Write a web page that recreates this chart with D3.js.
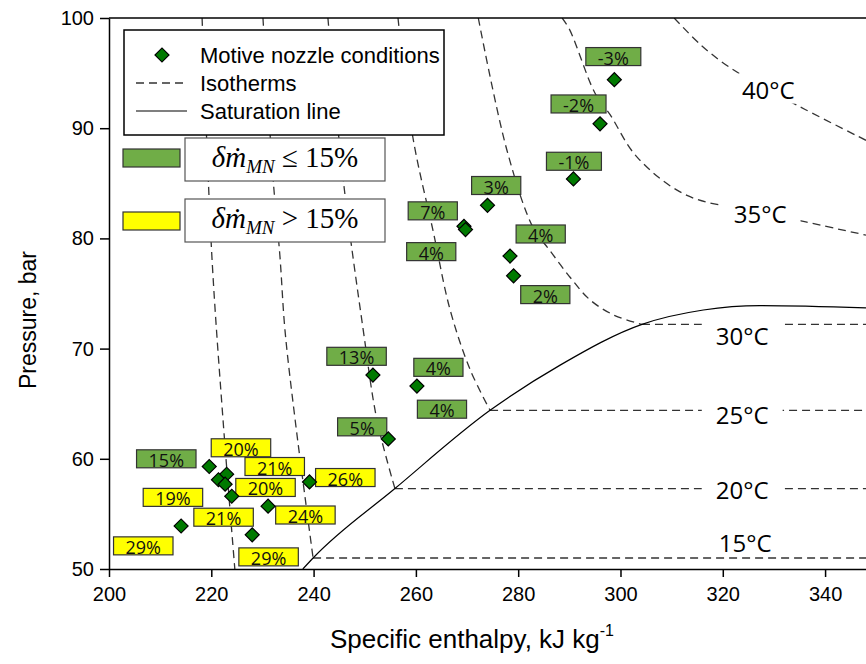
<!DOCTYPE html>
<html>
<head>
<meta charset="utf-8">
<script src="https://cdn.jsdelivr.net/npm/d3@7"></script>
<style>
  body { margin: 0; background: #fff; }
  .axis text { font-family: "Liberation Sans", Arial, sans-serif; font-size: 20px; fill: #000; }
  .axis path, .axis line { stroke: #000; stroke-width: 1.5; }
</style>
</head>
<body>
<div id="canvas"></div>
<script>
// axis ticks
const xTicks = [200, 220, 240, 260, 280, 300, 320, 340];
const yTicks = [50, 60, 70, 80, 90, 100];

// saturation line (h kJ/kg, p bar)
const satH = [237.9, 239.9, 255.9, 274.5, 288.2, 304.2, 316.2, 327.3, 348.0];
const satP = [50.0, 51.0, 57.3, 64.4, 68.5, 72.2, 73.5, 73.9, 73.7];

// isotherm branches
const iso10 = [[218.2, 100], [220.1, 78.5], [222.3, 63.5], [224.6, 50]];
const iso15 = [[230.1, 100], [232.1, 85.3], [233.4, 78.5], [234.4, 71.7], [236.4, 63.5], [239.9, 51.0]];
const iso20 = [[242.8, 100], [245.8, 85.3], [249.7, 71.7], [252.4, 63.5], [255.9, 57.3]];
const iso25 = [[256.5, 100], [259.4, 89.2], [263.4, 80.6], [266.7, 73.5], [270.6, 68.1], [274.5, 64.4]];
const iso30 = [[272.2, 100], [277.8, 88.0], [282.9, 81.0], [286.2, 78.9], [290.1, 76.5], [294.1, 74.4], [298.9, 73.0], [304.2, 72.2]];
const iso35 = [[288.6, 100], [290.1, 98.9], [295.0, 93.2], [298.0, 91.2], [303.2, 87.4], [313.0, 83.9], [327.3, 82.4], [348, 80.3]];
const iso40 = [[310.5, 100], [315.6, 97.6], [321.4, 95.5], [328.9, 93.5], [336.1, 91.7], [348, 88.9]];

// two-phase plateaus
const plateauP = [51.0, 57.3, 64.4, 72.2];
const plateauH = [239.9, 255.9, 274.5, 304.2];

// isotherm labels
const isoNames = ["15°C", "20°C", "25°C", "30°C", "35°C", "40°C"];
const isoLabelH = [324.4, 323.8, 323.8, 323.8, 327.3, 328.9];
const isoLabelP = [52.4, 57.2, 64.0, 71.2, 82.3, 93.5];

// motive nozzle conditions
const ptH = [298.8, 296.0, 290.8, 274.0, 269.4, 269.7, 278.4, 279.1, 251.6, 260.2, 254.6,
             219.6, 223.0, 221.4, 222.7, 224.0, 239.2, 231.1, 214.1, 228.0];
const ptP = [94.4, 90.4, 85.4, 83.0, 81.1, 80.8, 78.4, 76.6, 67.6, 66.6, 61.8,
             59.3, 58.6, 58.1, 57.7, 56.6, 57.9, 55.7, 53.9, 53.1];

// mass flow deviation labels
const devText = ["-3%", "-2%", "-1%", "3%", "7%", "4%", "4%", "2%", "13%", "4%", "4%", "5%", "15%",
                 "20%", "21%", "20%", "26%", "19%", "21%", "24%", "29%", "29%"];
const devH = [298.6, 291.8, 290.9, 275.7, 263.3, 284.4, 263.0, 285.3, 248.4, 264.4, 265.1, 249.5, 211.2,
              225.8, 232.4, 230.6, 246.2, 212.5, 222.4, 238.4, 206.7, 231.2];
const devP = [96.5, 92.2, 87.0, 84.8, 82.5, 80.4, 78.8, 74.9, 69.3, 68.3, 64.5, 62.9, 60.0,
              61.0, 59.3, 57.4, 58.3, 56.5, 54.7, 54.9, 52.1, 51.1];
const devValue = [-3, -2, -1, 3, 7, 4, 4, 2, 13, 4, 4, 5, 15, 20, 21, 20, 26, 19, 21, 24, 29, 29];

const green = "#70ad47";
const yellow = "#ffff00";

const width = 866, height = 664;
const margin = { top: 18, left: 109, bottom: 95, right: 0 };

const svg = d3.select("#canvas").append("svg")
  .attr("width", width).attr("height", height);

const x = d3.scaleLinear().domain([200, 348]).range([margin.left, width - margin.right]);
const y = d3.scaleLinear().domain([50, 100]).range([height - margin.bottom, margin.top]);

svg.append("clipPath").attr("id", "plot")
  .append("rect")
  .attr("x", x(200)).attr("y", y(100))
  .attr("width", x(348) - x(200)).attr("height", y(50) - y(100));

const plot = svg.append("g").attr("clip-path", "url(#plot)");

const curve = d3.line().x(d => x(d[0])).y(d => y(d[1])).curve(d3.curveCatmullRom);
const dash = "8,5";

[iso10, iso15, iso20, iso25, iso30, iso35, iso40].forEach(iso => {
  plot.append("path").attr("d", curve(iso))
    .attr("fill", "none").attr("stroke", "#333").attr("stroke-width", 1.3)
    .attr("stroke-dasharray", dash);
});

plateauP.forEach((p, i) => {
  plot.append("line")
    .attr("x1", x(plateauH[i])).attr("x2", x(348))
    .attr("y1", y(p)).attr("y2", y(p))
    .attr("stroke", "#333").attr("stroke-width", 1.3).attr("stroke-dasharray", dash);
});

const satLine = d3.line().x(d => x(d[0])).y(d => y(d[1])).curve(d3.curveMonotoneX);
plot.append("path")
  .attr("d", satLine(satH.map((h, i) => [h, satP[i]])))
  .attr("fill", "none").attr("stroke", "#000").attr("stroke-width", 1.2);

// isotherm labels with a white gap behind them
isoNames.forEach((name, i) => {
  const cx = x(isoLabelH[i]), cy = y(isoLabelP[i]);
  const t = svg.append("text")
    .attr("x", cx).attr("y", cy)
    .attr("text-anchor", "middle").attr("dominant-baseline", "central")
    .style("font-family", "'Open Sans', sans-serif").style("font-size", "24px")
    .text(name);
  const w = t.node().getComputedTextLength();
  svg.insert("rect", "text")
    .attr("x", cx - w / 2 - 14).attr("y", cy - 16)
    .attr("width", w + 28).attr("height", 30)
    .attr("fill", "#fff");
});

// deviation boxes
devText.forEach((s, i) => {
  const cx = x(devH[i]), cy = y(devP[i]);
  const g = svg.append("g");
  const r = g.append("rect").attr("fill", devValue[i] <= 15 ? green : yellow)
    .attr("stroke", "#333").attr("stroke-width", 1.2);
  const t = g.append("text")
    .attr("x", cx).attr("y", cy + 1)
    .attr("text-anchor", "middle").attr("dominant-baseline", "central")
    .style("font-family", "'Open Sans', sans-serif").style("font-size", "18px")
    .attr("fill", "#111")
    .text(s);
  const w = t.node().getComputedTextLength() + 24;
  r.attr("x", cx - w / 2).attr("y", cy - 9).attr("width", w).attr("height", 18);
});

// points
const diamond = d3.symbol().type(d3.symbolSquare).size(98);
svg.append("g").selectAll("path")
  .data(ptH.map((h, i) => [h, ptP[i]]))
  .join("path")
  .attr("d", diamond)
  .attr("transform", d => `translate(${x(d[0])},${y(d[1])}) rotate(45)`)
  .attr("fill", "#007a00").attr("stroke", "#000").attr("stroke-width", 1.2);

// axes
svg.append("g").attr("class", "axis")
  .attr("transform", `translate(0,${y(50)})`)
  .call(d3.axisBottom(x).tickValues(xTicks).tickSize(8).tickSizeOuter(0).tickPadding(10));

svg.append("g").attr("class", "axis")
  .attr("transform", `translate(${x(200)},0)`)
  .call(d3.axisLeft(y).tickValues(yTicks).tickSize(9).tickSizeOuter(0).tickPadding(6));

svg.append("line")
  .attr("x1", x(200)).attr("x2", x(348)).attr("y1", y(100)).attr("y2", y(100))
  .attr("stroke", "#000").attr("stroke-width", 1.5);

svg.append("text")
  .attr("x", 472).attr("y", 648)
  .attr("text-anchor", "middle")
  .style("font-family", "'Liberation Sans', Arial, sans-serif").style("font-size", "26px")
  .text("Specific enthalpy, kJ kg")
  .append("tspan").attr("dy", -12).style("font-size", "16px").text("-1");

svg.append("text")
  .attr("transform", "translate(36,320) rotate(-90)")
  .attr("text-anchor", "middle")
  .style("font-family", "'Liberation Sans', Arial, sans-serif").style("font-size", "23px")
  .text("Pressure, bar");

// legend
const lg = svg.append("g");
lg.append("rect").attr("x", 124).attr("y", 30).attr("width", 320).attr("height", 105)
  .attr("fill", "#fff").attr("stroke", "#000").attr("stroke-width", 1.5);
lg.append("path").attr("d", diamond)
  .attr("transform", "translate(162,55) rotate(45)")
  .attr("fill", "#007a00").attr("stroke", "#000").attr("stroke-width", 1.2);
lg.append("line").attr("x1", 136).attr("x2", 187).attr("y1", 83).attr("y2", 83)
  .attr("stroke", "#333").attr("stroke-width", 1.3).attr("stroke-dasharray", dash);
lg.append("line").attr("x1", 136).attr("x2", 187).attr("y1", 111).attr("y2", 111)
  .attr("stroke", "#000").attr("stroke-width", 1.2);
["Motive nozzle conditions", "Isotherms", "Saturation line"].forEach((s, i) => {
  lg.append("text").attr("x", 200).attr("y", 55 + i * 28)
    .attr("dominant-baseline", "central")
    .style("font-family", "'Liberation Sans', Arial, sans-serif").style("font-size", "22px")
    .text(s);
});

// colour key
const keys = [
  { fill: green, sym: "≤", sy: 149, by: 138 },
  { fill: yellow, sym: ">", sy: 212, by: 199 }
];
keys.forEach(k => {
  svg.append("rect").attr("x", 123).attr("y", k.sy).attr("width", 57).attr("height", 18)
    .attr("fill", k.fill).attr("stroke", "#333").attr("stroke-width", 1.2);
  svg.append("rect").attr("x", 185).attr("y", k.by).attr("width", 200).attr("height", 43)
    .attr("fill", "#fff").attr("stroke", "#555").attr("stroke-width", 1.2);
  const t = svg.append("text").attr("x", 285).attr("y", k.by + 29)
    .attr("text-anchor", "middle")
    .style("font-family", "'Liberation Serif', 'DejaVu Serif', serif").style("font-size", "29px");
  t.append("tspan").style("font-style", "italic").text("δṁ");
  t.append("tspan").attr("dy", 6).style("font-style", "italic").style("font-size", "19px").text("MN");
  t.append("tspan").attr("dy", -6).text(` ${k.sym} 15%`);
});
</script>
</body>
</html>
